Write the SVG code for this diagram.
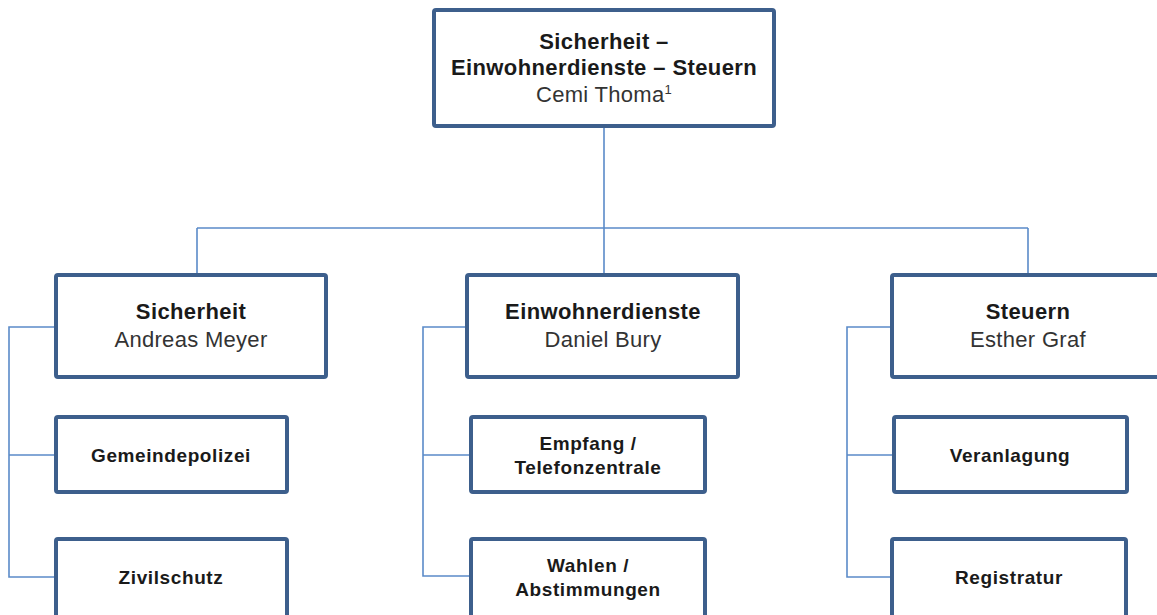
<svg xmlns="http://www.w3.org/2000/svg" width="1157" height="615" viewBox="0 0 1157 615">
<style>
.box{fill:#fff;stroke:#3d5f8c;stroke-width:4;stroke-linejoin:round}
.con{fill:none;stroke:#5b8bc9;stroke-width:1.6}
text{font-family:"Liberation Sans",Arial,sans-serif;text-anchor:middle;fill:#1a1a1a}
.h{font-size:22px;font-weight:bold;letter-spacing:0.4px}
.n{font-size:22px;fill:#333;letter-spacing:0.3px}
.s{font-size:19px;font-weight:bold;letter-spacing:0.6px}
</style>
<rect width="1157" height="615" fill="#fff"/>
<g id="connectors">
<path class="con" d="M604 126 V275 M197 228 H1028 M197 228 V275 M1028 228 V275"/>
<path class="con" d="M56 327 H9 V577 H56 M9 455 H56"/>
<path class="con" d="M467 327 H423 V576 H471 M423 455 H471"/>
<path class="con" d="M892 327 H847 V577 H892 M847 455 H894"/>
</g>
<g id="top">
<rect class="box" x="434" y="10" width="340" height="116" rx="2"/>
<text class="h" x="604" y="49">Sicherheit –</text>
<text class="h" x="604" y="75">Einwohnerdienste – Steuern</text>
<text class="n" x="604" y="102">Cemi Thoma<tspan font-size="13" dy="-8">1</tspan></text>
</g>
<g id="sicherheit">
<rect class="box" x="56" y="275" width="270" height="102" rx="2"/>
<text class="h" x="191" y="319">Sicherheit</text>
<text class="n" x="191" y="347">Andreas Meyer</text>
</g>
<g id="gemeindepolizei">
<rect class="box" x="56" y="417" width="231" height="75" rx="2"/>
<text class="s" x="171" y="462">Gemeindepolizei</text>
</g>
<g id="zivilschutz">
<rect class="box" x="56" y="539" width="231" height="80" rx="2"/>
<text class="s" x="171" y="584">Zivilschutz</text>
</g>
<g id="einwohnerdienste">
<rect class="box" x="467" y="275" width="271" height="102" rx="2"/>
<text class="h" x="603" y="319">Einwohnerdienste</text>
<text class="n" x="603" y="347">Daniel Bury</text>
</g>
<g id="empfang">
<rect class="box" x="471" y="417" width="234" height="75" rx="2"/>
<text class="s" x="588" y="450">Empfang /</text>
<text class="s" x="588" y="474">Telefonzentrale</text>
</g>
<g id="wahlen">
<rect class="box" x="471" y="539" width="234" height="80" rx="2"/>
<text class="s" x="588" y="572">Wahlen /</text>
<text class="s" x="588" y="596">Abstimmungen</text>
</g>
<g id="steuern">
<rect class="box" x="892" y="275" width="272" height="102" rx="2"/>
<text class="h" x="1028" y="319">Steuern</text>
<text class="n" x="1028" y="347">Esther Graf</text>
</g>
<g id="veranlagung">
<rect class="box" x="894" y="417" width="233" height="75" rx="2"/>
<text class="s" x="1010" y="462">Veranlagung</text>
</g>
<g id="registratur">
<rect class="box" x="892" y="539" width="234" height="80" rx="2"/>
<text class="s" x="1009" y="584">Registratur</text>
</g>
</svg>
